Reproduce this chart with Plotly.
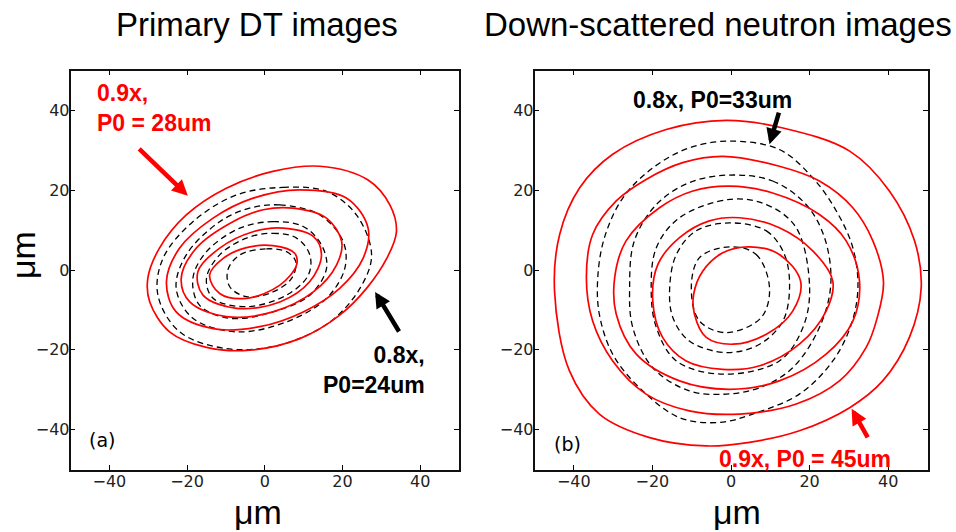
import plotly.graph_objects as go

# ---------------- data (in micrometres) ----------------
tick_vals = [-40, -20, 0, 20, 40]
tick_text = ["\u221240", "\u221220", "0", "20", "40"]

# Panel (a): primary DT images - red solid contours (0.9x, P0 = 28um)
a_red_x = [
    [2.1, 14.2, 26.5, 32.2, 33.9, 31.4, 26.2, 19.3, 9.0, -3.9, -15.0, -24.5, -29.6, -30.1, -27.1, -20.2, -9.9],
    [-3.0, 9.0, 21.1, 26.6, 25.3, 19.3, 9.9, -1.3, -13.3, -22.8, -25.3, -21.9, -13.3],
    [-0.4, 7.3, 15.9, 19.8, 18.5, 12.5, 2.1, -9.9, -19.3, -21.5, -17.6, -8.2],
    [-3.0, 4.7, 12.5, 14.6, 11.6, 3.9, -7.3, -15.9, -17.2, -11.6],
    [-4.7, 2.1, 7.7, 8.2, 3.9, -4.7, -11.6, -14.2, -10.7],
]
a_red_y = [
    [24.7, 26.0, 22.6, 16.3, 9.6, 2.9, -4.6, -11.3, -17.2, -20.1, -19.4, -15.5, -8.0, -2.1, 5.5, 13.8, 20.5],
    [18.0, 20.1, 18.0, 10.5, 2.9, -4.6, -10.5, -14.2, -14.7, -10.5, -2.9, 5.5, 13.0],
    [15.1, 15.5, 13.0, 7.1, 1.3, -5.5, -10.5, -11.7, -8.0, -2.1, 5.5, 12.1],
    [9.6, 10.5, 8.4, 3.8, -2.9, -8.0, -9.6, -6.3, -0.4, 5.5],
    [5.6, 6.1, 4.2, 1.3, -3.8, -7.1, -5.9, -1.3, 2.9],
]
# Panel (a): black dashed contours (0.8x, P0 = 24um)
a_dash_x = [
    [-7.3, 4.7, 15.9, 23.6, 27.5, 24.5, 16.8, 3.9, -9.9, -21.9, -27.5, -26.2, -18.5],
    [-3.9, 3.9, 14.2, 20.2, 20.6, 15.9, 5.6, -7.3, -18.5, -22.8, -20.2, -11.6],
    [-6.4, 2.1, 9.9, 14.6, 15.9, 11.6, 2.1, -9.0, -16.8, -18.5, -15.0],
    [-4.7, 2.1, 8.2, 11.6, 11.2, 5.6, -4.7, -13.3, -15.0, -11.6],
    [-6.4, 0.4, 5.6, 8.0, 6.9, 2.1, -4.7, -9.0, -9.5],
]
a_dash_y = [
    [18.8, 20.7, 19.7, 13.8, 3.8, -4.6, -13.0, -18.8, -19.7, -15.5, -6.3, 2.9, 12.1],
    [15.5, 16.3, 13.8, 7.1, 0.4, -7.1, -13.0, -15.5, -12.1, -4.6, 3.8, 12.1],
    [10.5, 12.1, 10.9, 6.3, 0.4, -6.3, -10.5, -12.1, -8.8, -2.1, 4.6],
    [8.0, 9.2, 8.0, 3.8, -1.3, -6.3, -9.2, -7.1, -2.1, 3.8],
    [3.8, 5.3, 4.6, 2.1, -2.1, -5.5, -6.7, -4.2, 0.0],
]

# Panel (b): down-scattered neutron images - red solid contours (0.9x, P0 = 45um)
b_red_x = [
    [-16.5, -1.2, 13.2, 30.2, 40.3, 46.7, 48.4, 45.4, 38.6, 30.2, 17.4, 4.7, -6.3, -20.7, -33.5, -41.1, -44.9, -43.6, -38.5, -30.1],
    [-12.3, -2.1, 12.3, 22.5, 31.0, 36.1, 38.8, 37.2, 34.4, 27.6, 16.6, 2.2, -10.6, -21.6, -30.1, -35.2, -36.8, -35.2, -29.2, -21.6],
    [-9.7, -0.4, 10.6, 22.5, 29.3, 32.7, 31.0, 24.2, 12.3, -0.4, -13.1, -24.1, -29.2, -29.6, -26.7, -18.2],
    [-5.5, 2.2, 12.3, 20.8, 25.9, 24.2, 17.4, 7.3, -2.1, -11.4, -17.4, -19.9, -18.6, -13.1],
    [-2.1, 4.7, 12.3, 17.7, 15.7, 9.0, 0.5, -6.3, -9.3, -9.5, -7.2],
]
b_red_y = [
    [35.2, 37.5, 35.6, 29.8, 19.8, 7.3, -4.4, -16.9, -27.8, -34.5, -40.3, -43.2, -44.1, -42.0, -36.1, -25.3, -5.3, 8.9, 20.6, 29.0],
    [26.9, 28.5, 26.0, 22.3, 15.6, 7.3, -3.0, -12.0, -19.4, -27.8, -33.6, -36.1, -35.3, -31.1, -22.8, -12.8, -1.9, 8.9, 17.3, 22.7],
    [19.8, 21.0, 19.3, 13.9, 7.3, -2.8, -12.8, -21.1, -27.8, -29.9, -27.8, -21.1, -11.1, -1.9, 7.3, 15.6],
    [12.3, 13.1, 10.6, 4.8, -2.8, -10.3, -18.6, -24.0, -24.9, -22.8, -16.9, -7.8, 1.4, 8.1],
    [4.3, 5.8, 3.9, -2.8, -10.3, -16.1, -18.6, -16.9, -11.1, -6.1, -0.3],
]
# Panel (b): black dashed contours (0.8x, P0 = 33um)
b_dash_x = [
    [-0.4, 12.3, 20.8, 26.8, 31.0, 32.3, 30.6, 25.9, 17.4, 5.5, -2.9, -13.1, -23.3, -30.1, -33.5, -33.9, -32.2, -27.5, -19.9, -10.6],
    [-0.4, 10.6, 19.1, 23.8, 25.4, 22.5, 15.7, 7.3, -1.2, -10.6, -19.9, -25.0, -25.8, -24.6, -19.0, -10.6],
    [-0.4, 9.0, 16.6, 20.0, 18.3, 12.3, -2.1, -13.9, -19.0, -20.3, -19.0, -13.1],
    [-0.4, 9.0, 13.6, 14.9, 13.2, 7.3, -1.2, -10.6, -14.8, -15.6, -13.9, -8.9],
    [-0.4, 6.4, 9.8, 7.7, -1.2, -8.0, -10.1, -8.0],
]
b_dash_y = [
    [32.3, 30.2, 23.1, 14.8, 5.6, -4.4, -13.6, -22.8, -31.1, -36.1, -38.2, -37.0, -29.5, -21.1, -11.1, -1.9, 8.1, 18.1, 25.6, 30.6],
    [23.8, 22.3, 16.4, 8.1, -3.5, -14.4, -24.5, -29.5, -31.1, -30.3, -24.5, -14.4, -4.4, 7.3, 16.4, 21.9],
    [17.7, 16.4, 10.6, -4.4, -14.4, -22.8, -26.1, -22.8, -14.4, -5.3, 5.6, 13.1],
    [11.8, 9.8, 3.9, -4.4, -12.8, -18.6, -20.7, -17.8, -11.9, -4.4, 3.9, 9.8],
    [5.8, 3.9, -4.4, -11.9, -15.7, -12.8, -4.4, 3.1],
]

RED = "#ff0000"
BLACK = "#000000"

fig = go.Figure()


def add_loops(xs, ys, color, dash, width, xa, ya):
    for cx, cy in zip(xs, ys):
        fig.add_trace(go.Scatter(
            x=list(cx) + [cx[0]], y=list(cy) + [cy[0]],
            mode="lines", xaxis=xa, yaxis=ya, hoverinfo="skip",
            line=dict(color=color, width=width, dash=dash, shape="spline", smoothing=1.0),
            showlegend=False,
        ))


add_loops(a_dash_x, a_dash_y, BLACK, "6px,4px", 1.3, "x", "y")
add_loops(a_red_x, a_red_y, RED, "solid", 1.7, "x", "y")
add_loops(b_dash_x, b_dash_y, BLACK, "6px,4px", 1.3, "x2", "y2")
add_loops(b_red_x, b_red_y, RED, "solid", 1.7, "x2", "y2")

W, H = 956, 532
def px(v):
    return v / W
def py(v):
    return 1 - v / H

axis_common = dict(
    range=[-50, 50], tickvals=tick_vals, ticktext=tick_text,
    ticks="inside", ticklen=5, tickwidth=1, tickcolor="#000",
    showline=True, linecolor="#111", linewidth=1.6, mirror="ticks",
    showgrid=False, zeroline=False, fixedrange=True,
    tickfont=dict(family="DejaVu Sans", size=16, color="#222"),
)

fig.update_layout(
    width=W, height=H,
    margin=dict(l=0, r=0, t=0, b=0),
    paper_bgcolor="white", plot_bgcolor="white",
    hovermode=False,
    xaxis=dict(domain=[px(70.5), px(459)], anchor="y", ticklabelstandoff=-4, **axis_common),
    yaxis=dict(domain=[py(469.5), py(70.5)], anchor="x", ticklabelstandoff=-4, **axis_common),
    xaxis2=dict(domain=[px(534.5), px(927.5)], anchor="y2", ticklabelstandoff=-4, **axis_common),
    yaxis2=dict(domain=[py(469.5), py(70.5)], anchor="x2", ticklabelstandoff=-4, **axis_common),
)

ann = []
# titles
ann.append(dict(text="Primary DT images", x=px(257), y=py(25), xref="paper", yref="paper",
                showarrow=False, xanchor="center", yanchor="middle",
                font=dict(family="Liberation Sans", size=33, color="#000")))
ann.append(dict(text="Down-scattered neutron images", x=px(718), y=py(25), xref="paper", yref="paper",
                showarrow=False, xanchor="center", yanchor="middle",
                font=dict(family="Liberation Sans", size=33, color="#000")))
# axis labels
for cxp in (258, 737):
    ann.append(dict(text="\u03bcm", x=px(cxp), y=py(512), xref="paper", yref="paper",
                    showarrow=False, xanchor="center", yanchor="middle",
                    font=dict(family="Liberation Sans", size=34, color="#000")))
ann.append(dict(text="\u03bcm", x=px(23), y=py(255), xref="paper", yref="paper",
                showarrow=False, xanchor="center", yanchor="middle", textangle=-90,
                font=dict(family="Liberation Sans", size=34, color="#000")))
# panel tags
ann.append(dict(text="(a)", x=-41.8, y=-42.7, xref="x", yref="y", showarrow=False,
                font=dict(family="DejaVu Sans", size=19, color="#000")))
ann.append(dict(text="(b)", x=-41.7, y=-43.6, xref="x2", yref="y2", showarrow=False,
                font=dict(family="DejaVu Sans", size=19, color="#000")))
# callout texts
bold = dict(family="Liberation Sans", size=23)
ann.append(dict(text="<b>0.9x,<br>P0 = 28um</b>", x=-43.8, y=40.5, xref="x", yref="y",
                showarrow=False, xanchor="left", yanchor="middle", align="left",
                font=dict(color=RED, **bold)))
ann.append(dict(text="<b>0.8x,<br>P0=24um</b>", x=41.8, y=-25.1, xref="x", yref="y",
                showarrow=False, xanchor="right", yanchor="middle", align="right",
                font=dict(color=BLACK, **bold)))
ann.append(dict(text="<b>0.8x, P0=33um</b>", x=-4.6, y=42.5, xref="x2", yref="y2",
                showarrow=False, xanchor="center", yanchor="middle",
                font=dict(color=BLACK, **bold)))
ann.append(dict(text="<b>0.9x, P0 = 45um</b>", x=18.9, y=-47.4, xref="x2", yref="y2",
                showarrow=False, xanchor="center", yanchor="middle",
                font=dict(color=RED, **bold)))
# arrows (head at x,y ; tail at ax,ay)
arrows = [
    ("x", "y", -19.8, 18.6, -32.7, 30.7, RED),
    ("x", "y", 28.4, -5.5, 34.8, -15.8, BLACK),
    ("x2", "y2", 9.8, 31.5, 12.3, 39.8, BLACK),
    ("x2", "y2", 30.7, -34.8, 35.0, -42.3, RED),
]
for xr, yr, hx, hy, tx, ty, col in arrows:
    ann.append(dict(text="", x=hx, y=hy, ax=tx, ay=ty, xref=xr, yref=yr, axref=xr, ayref=yr,
                    showarrow=True, arrowhead=2, arrowsize=0.7, arrowwidth=4.5,
                    arrowcolor=col, standoff=0, startstandoff=0))

fig.update_layout(annotations=ann)
# the page body has a default 8px margin; remove it so the figure fills the window exactly
fig.write_html("out.html", config={"displayModeBar": False},
               post_script="document.body.style.margin='0px';")
